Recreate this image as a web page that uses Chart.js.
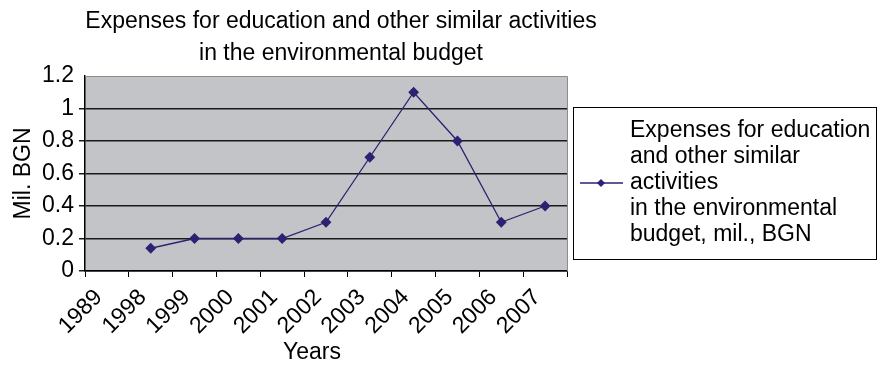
<!DOCTYPE html>
<html>
<head>
<meta charset="utf-8">
<script src="https://cdn.jsdelivr.net/npm/chart.js@4/dist/chart.umd.min.js"></script>
<style>
  html, body { margin: 0; padding: 0; background: #fff; }
  #wrap { width: 882px; height: 365px; }
</style>
</head>
<body>
<div id="wrap"><canvas id="expChart" width="882" height="365"></canvas></div>
<script>
var years = ['1989', '1998', '1999', '2000', '2001', '2002', '2003', '2004', '2005', '2006', '2007'];
var expenses = [null, 0.14, 0.2, 0.2, 0.2, 0.3, 0.7, 1.1, 0.8, 0.3, 0.4];
var titleLines = ['Expenses for education and other similar activities', 'in the environmental budget'];
var legendLines = ['Expenses for education', 'and other similar', 'activities', 'in the environmental', 'budget, mil., BGN'];
var xTitle = 'Years';

var lineColor = '#2b2272';
var fontFamily = '"Liberation Sans", Arial, sans-serif';

// gray plot background, frame, titles and the boxed legend on the right
var decorations = {
    id: 'decorations',
    beforeDraw: function(chart) {
        var ctx = chart.ctx;
        var a = chart.chartArea;
        ctx.save();
        ctx.fillStyle = '#c3c4c8';
        ctx.fillRect(a.left, a.top, a.right - a.left, a.bottom - a.top);
        ctx.restore();
    },
    afterDatasetsDraw: function(chart) {
        var ctx = chart.ctx;
        var a = chart.chartArea;
        ctx.save();
        // top and right edges of the plot
        ctx.strokeStyle = '#8c8c8c';
        ctx.lineWidth = 1;
        ctx.beginPath();
        ctx.moveTo(a.left, a.top + 0.5);
        ctx.lineTo(a.right + 0.5, a.top + 0.5);
        ctx.lineTo(a.right + 0.5, a.bottom);
        ctx.stroke();

        // chart title and x axis title
        ctx.fillStyle = '#000';
        ctx.font = '23px ' + fontFamily;
        ctx.textAlign = 'center';
        ctx.textBaseline = 'middle';
        ctx.fillText(titleLines[0], 341, 22);
        ctx.fillText(titleLines[1], 341, 54);
        ctx.fillText(xTitle, 312, 353);

        // legend
        var bx = 573, by = 107, bw = 303, bh = 152;
        ctx.strokeStyle = '#000';
        ctx.lineWidth = 1;
        ctx.strokeRect(bx + 0.5, by + 0.5, bw, bh);
        var mid = by + bh / 2;
        ctx.strokeStyle = lineColor;
        ctx.lineWidth = 1.5;
        ctx.beginPath();
        ctx.moveTo(580, mid);
        ctx.lineTo(623, mid);
        ctx.stroke();
        ctx.fillStyle = lineColor;
        ctx.beginPath();
        ctx.moveTo(601, mid - 4);
        ctx.lineTo(605, mid);
        ctx.lineTo(601, mid + 4);
        ctx.lineTo(597, mid);
        ctx.closePath();
        ctx.fill();
        ctx.fillStyle = '#000';
        ctx.textAlign = 'left';
        var lh = 26;
        var y0 = mid - lh * (legendLines.length - 1) / 2;
        for (var i = 0; i < legendLines.length; i++) {
            ctx.fillText(legendLines[i], 630, y0 + i * lh);
        }
        ctx.restore();
    }
};

var ctx = document.getElementById('expChart');
var expChart = new Chart(ctx, {
    type: 'line',
    data: {
        labels: years,
        datasets: [{
            label: legendLines.join(' '),
            data: expenses,
            borderColor: lineColor,
            backgroundColor: lineColor,
            borderWidth: 1.3,
            pointStyle: 'rectRot',
            pointRadius: 4.5,
            pointHoverRadius: 4.5,
            fill: false,
            tension: 0
        }]
    },
    options: {
        responsive: false,
        animation: false,
        events: [],
        layout: { padding: { top: 76, right: 315, bottom: 0, left: 0 } },
        plugins: {
            legend: { display: false },
            title: { display: false },
            tooltip: { enabled: false }
        },
        scales: {
            x: {
                type: 'category',
                offset: true,
                grid: {
                    offset: true,
                    drawOnChartArea: false,
                    drawTicks: true,
                    tickLength: 6,
                    color: '#000'
                },
                border: { display: true, color: '#000', width: 1.5 },
                ticks: {
                    color: '#000',
                    font: { family: fontFamily, size: 23 },
                    minRotation: 45,
                    maxRotation: 45,
                    autoSkip: false,
                    padding: 7,
                    labelOffset: -8
                },
                afterFit: function(scale) { scale.height = 94; }
            },
            y: {
                min: 0,
                max: 1.2,
                ticks: {
                    stepSize: 0.2,
                    color: '#000',
                    font: { family: fontFamily, size: 23 },
                    padding: 5,
                    callback: function(v) { return String(Math.round(v * 10) / 10); }
                },
                grid: {
                    tickLength: 6,
                    lineWidth: 1.5,
                    color: function(c) {
                        return c.tick && c.tick.value >= 1.2 ? 'rgba(0,0,0,0)' : '#1a1a1a';
                    }
                },
                border: { display: true, color: '#000', width: 1.5 },
                title: {
                    display: true,
                    text: 'Mil. BGN',
                    color: '#000',
                    font: { family: fontFamily, size: 23 },
                    padding: { top: 10, bottom: 0 }
                },
                afterFit: function(scale) { scale.width = 85; }
            }
        }
    },
    plugins: [decorations]
});
</script>
</body>
</html>
